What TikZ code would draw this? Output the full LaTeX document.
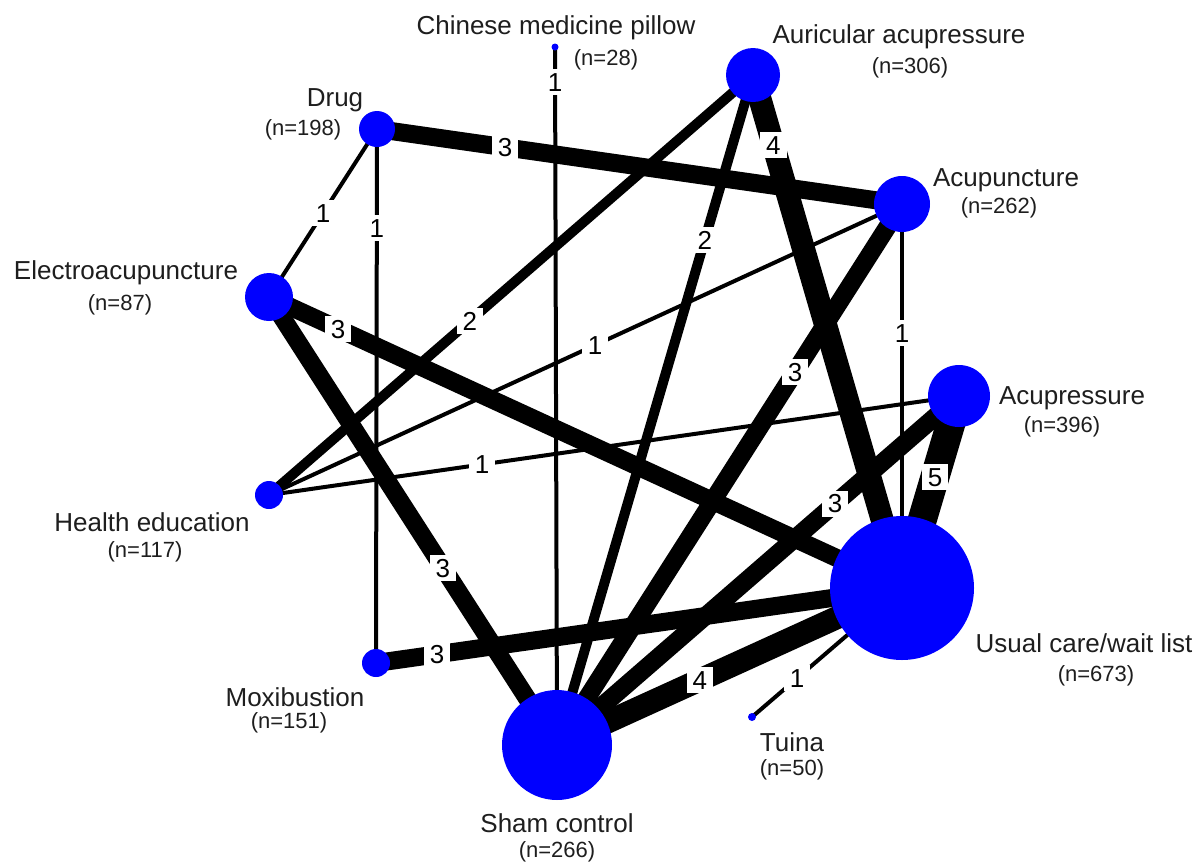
\documentclass[tikz,border=0pt]{standalone}
\usepackage{fontspec}
\setmainfont{Liberation Sans}
\usetikzlibrary{calc}
\pgfdeclarelayer{bg}
\pgfdeclarelayer{edges}
\pgfdeclarelayer{labels}
\pgfsetlayers{bg,edges,labels,main}
\definecolor{txt}{RGB}{30,30,30}
\begin{document}
\begin{tikzpicture}[x=0.5pt,y=-0.5pt,
  dot/.style={circle,fill=blue,draw=none,inner sep=0pt},
  nametext/.style={text=txt,font=\fontsize{13}{15}\selectfont,inner sep=0pt},
  cnttext/.style={text=txt,font=\fontsize{11}{13}\selectfont,inner sep=0pt},
  lab/.style={fill=white,text=black,font=\fontsize{13}{15}\selectfont,inner xsep=3pt,inner ysep=1.8pt,text height=9.4pt,text depth=0pt},
  wa/.style={line width=2pt,black},
  wb/.style={line width=5pt,black},
  wc/.style={line width=9pt,black},
  wd/.style={line width=11.5pt,black},
  we/.style={line width=14.5pt,black}]
\begin{pgfonlayer}{bg}
\fill[white] (0,0) rectangle (1200,863);
\end{pgfonlayer}
\useasboundingbox (0,0) rectangle (1200,863);
% nodes
\node[dot,minimum size=3.5pt] (pillow) at (555,47) {};
\node[dot,minimum size=27pt] (auric) at (753,75) {};
\node[dot,minimum size=18pt] (drug) at (377,129) {};
\node[dot,minimum size=28pt] (acup) at (902,204) {};
\node[dot,minimum size=24pt] (electro) at (269,297) {};
\node[dot,minimum size=31pt] (acupr) at (959,396) {};
\node[dot,minimum size=14pt] (health) at (269,495) {};
\node[dot,minimum size=72pt] (usual) at (902,588) {};
\node[dot,minimum size=14pt] (moxi) at (376,663) {};
\node[dot,minimum size=4pt] (tuina) at (752,717) {};
\node[dot,minimum size=55pt] (sham) at (557,745) {};
% edges
\begin{pgfonlayer}{edges}
\draw[wa] (pillow.center) -- (sham.center);
\draw[wc] (drug.center) -- (acup.center);
\draw[wa] (drug.center) -- (electro.center);
\draw[wa] (drug.center) -- (moxi.center);
\draw[wb] (auric.center) -- (health.center);
\draw[wb] (auric.center) -- (sham.center);
\draw[wd] (auric.center) -- (usual.center);
\draw[wa] (acup.center) -- (health.center);
\draw[wc] (acup.center) -- (sham.center);
\draw[wa] (acup.center) -- (usual.center);
\draw[wc] (electro.center) -- (usual.center);
\draw[wc] (electro.center) -- (sham.center);
\draw[wa] (acupr.center) -- (health.center);
\draw[wc] (acupr.center) -- (sham.center);
\draw[we] (acupr.center) -- (usual.center);
\draw[wc] (moxi.center) -- (usual.center);
\draw[wd] (sham.center) -- (usual.center);
\draw[wa] (tuina.center) -- (usual.center);
\end{pgfonlayer}
% edge labels
\begin{pgfonlayer}{labels}
\node[lab] (l1) at ($(pillow.center)!0.050!(sham.center)$) {1};
\node[lab] (l2) at ($(drug.center)!0.244!(acup.center)$) {3};
\node[lab] (l3) at ($(drug.center)!0.5!(electro.center)$) {1};
\node[lab] (l4) at ($(drug.center)!0.185!(moxi.center)$) {1};
\node[lab] (l5) at ($(auric.center)!0.585!(health.center)$) {2};
\node[lab] (l6) at ($(auric.center)!0.246!(sham.center)$) {2};
\node[lab] (l7) at ($(auric.center)!0.136!(usual.center)$) {4};
\node[lab] (l8) at ($(acup.center)!0.485!(health.center)$) {1};
\node[lab] (l9) at ($(acup.center)!0.31!(sham.center)$) {3};
\node[lab] (l10) at ($(acup.center)!0.336!(usual.center)$) {1};
\node[lab] (l11) at ($(electro.center)!0.109!(usual.center)$) {3};
\node[lab] (l12) at ($(electro.center)!0.604!(sham.center)$) {3};
\node[lab] (l13) at ($(acupr.center)!0.691!(health.center)$) {1};
\node[lab] (l14) at ($(acupr.center)!0.308!(sham.center)$) {3};
\node[lab] (l15) at ($(acupr.center)!0.42!(usual.center)$) {5};
\node[lab] (l16) at ($(moxi.center)!0.116!(usual.center)$) {3};
\node[lab] (l17) at ($(sham.center)!0.414!(usual.center)$) {4};
\node[lab] (l18) at ($(tuina.center)!0.3!(usual.center)$) {1};
\end{pgfonlayer}
% texts
\node[nametext] (tpillow) at (556,28) {Chinese medicine pillow};
\node[cnttext] (npillow) at (606,60) {(n=28)};
\node[nametext] (tauric) at (899,37) {Auricular acupressure};
\node[cnttext] (nauric) at (910,68) {(n=306)};
\node[nametext] (tdrug) at (335,100) {Drug};
\node[cnttext] (ndrug) at (303,130) {(n=198)};
\node[nametext] (tacup) at (1006,180) {Acupuncture};
\node[cnttext] (nacup) at (999,208) {(n=262)};
\node[nametext] (telectro) at (126,273) {Electroacupuncture};
\node[cnttext] (nelectro) at (120,305) {(n=87)};
\node[nametext] (tacupr) at (1072,398) {Acupressure};
\node[cnttext] (nacupr) at (1062,427) {(n=396)};
\node[nametext] (thealth) at (152,522) {Health education};
\node[cnttext] (nhealth) at (145,552) {(n=117)};
\node[nametext] (tusual) at (1084,643) {Usual care/wait list};
\node[cnttext] (nusual) at (1096,676) {(n=673)};
\node[nametext] (tmoxi) at (295,697) {Moxibustion};
\node[cnttext] (nmoxi) at (289,723) {(n=151)};
\node[nametext] (ttuina) at (792,742) {Tuina};
\node[cnttext] (ntuina) at (792,770) {(n=50)};
\node[nametext] (tsham) at (557,823) {Sham control};
\node[cnttext] (nsham) at (557,852) {(n=266)};
\end{tikzpicture}
\end{document}
